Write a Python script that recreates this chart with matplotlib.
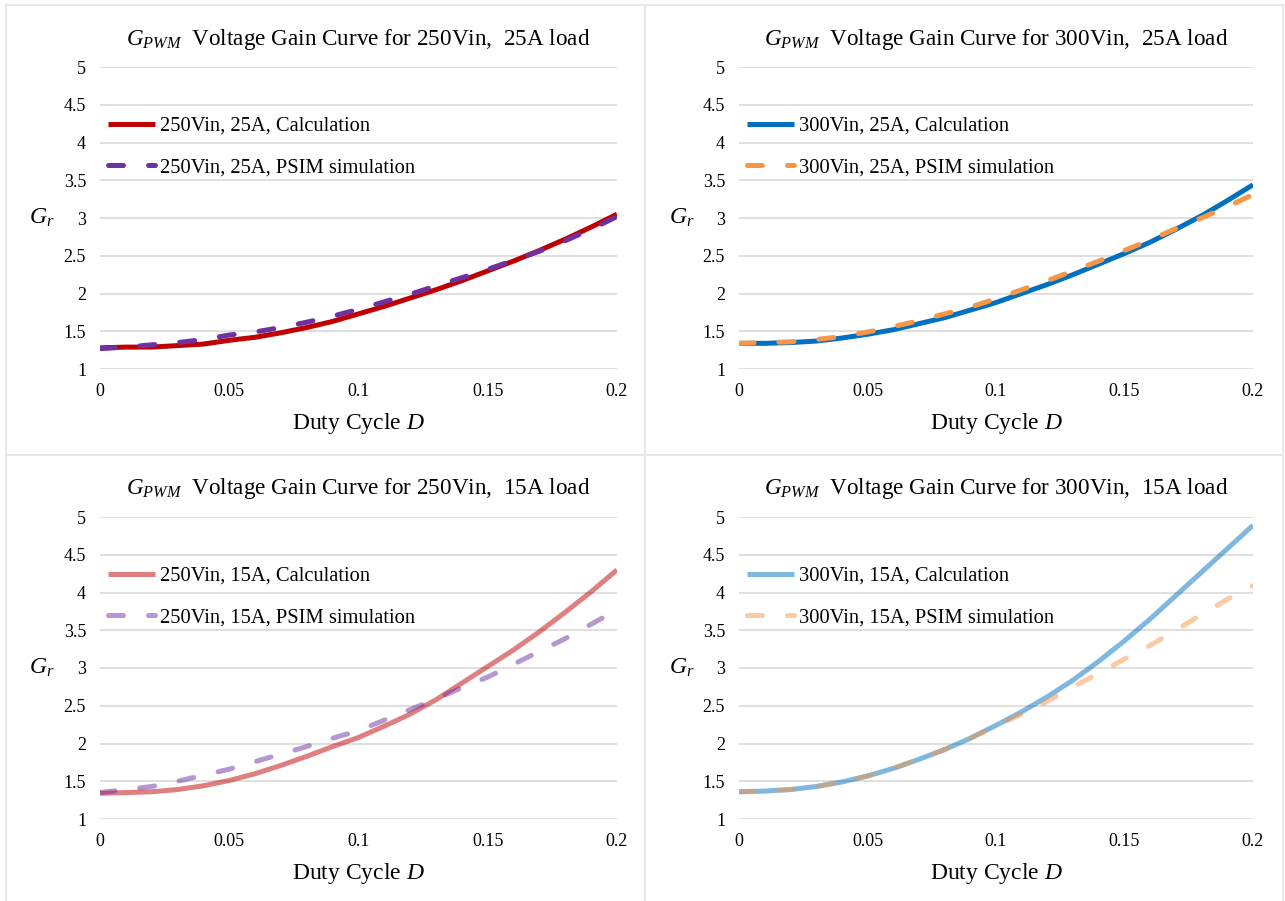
import matplotlib
matplotlib.use("Agg")
import matplotlib.pyplot as plt
from matplotlib.lines import Line2D

plt.rcParams['font.family'] = ['Liberation Serif', 'DejaVu Serif']
plt.rcParams['mathtext.fontset'] = 'custom'
plt.rcParams['mathtext.rm'] = 'Liberation Serif'
plt.rcParams['mathtext.it'] = 'Liberation Serif:italic'

# duty cycle D (x values shared by all curves)
duty = [0, 0.01, 0.02, 0.03, 0.04, 0.05, 0.06, 0.07, 0.08, 0.09, 0.10,
        0.11, 0.12, 0.13, 0.14, 0.15, 0.16, 0.17, 0.18, 0.19, 0.20]

# 250Vin, 25A
calc_250_25 = [1.28, 1.29, 1.29, 1.31, 1.33, 1.38, 1.42, 1.48, 1.55, 1.63, 1.73,
               1.83, 1.94, 2.05, 2.17, 2.30, 2.43, 2.57, 2.72, 2.88, 3.05]
sim_250_25 = [1.27, 1.29, 1.32, 1.35, 1.39, 1.45, 1.49, 1.55, 1.62, 1.70, 1.79,
              1.89, 1.99, 2.10, 2.21, 2.32, 2.44, 2.56, 2.70, 2.85, 3.02]

# 300Vin, 25A
calc_300_25 = [1.34, 1.34, 1.35, 1.37, 1.41, 1.46, 1.52, 1.60, 1.68, 1.78, 1.88,
               2.00, 2.12, 2.25, 2.39, 2.53, 2.68, 2.85, 3.03, 3.23, 3.44]
sim_300_25 = [1.34, 1.35, 1.36, 1.39, 1.43, 1.49, 1.56, 1.64, 1.73, 1.82, 1.93,
              2.05, 2.17, 2.30, 2.43, 2.57, 2.71, 2.86, 3.00, 3.15, 3.31]

# 250Vin, 15A
calc_250_15 = [1.34, 1.35, 1.36, 1.39, 1.44, 1.51, 1.60, 1.71, 1.83, 1.96, 2.08,
               2.23, 2.39, 2.58, 2.80, 3.02, 3.24, 3.48, 3.74, 4.01, 4.30]
sim_250_15 = [1.35, 1.39, 1.43, 1.50, 1.58, 1.66, 1.76, 1.86, 1.96, 2.07, 2.17,
              2.31, 2.45, 2.59, 2.74, 2.88, 3.05, 3.22, 3.39, 3.58, 3.77]

# 300Vin, 15A
calc_300_15 = [1.36, 1.37, 1.39, 1.43, 1.49, 1.57, 1.67, 1.79, 1.92, 2.07, 2.24,
               2.42, 2.62, 2.84, 3.09, 3.36, 3.65, 3.96, 4.27, 4.58, 4.89]
sim_300_15 = [1.36, 1.37, 1.39, 1.43, 1.49, 1.57, 1.67, 1.79, 1.92, 2.07, 2.23,
              2.39, 2.56, 2.75, 2.93, 3.12, 3.30, 3.50, 3.71, 3.91, 4.09]

x_ticks = [0, 0.05, 0.1, 0.15, 0.2]
x_tick_labels = ["0", "0.05", "0.1", "0.15", "0.2"]
y_ticks = [1, 1.5, 2, 2.5, 3, 3.5, 4, 4.5, 5]
y_tick_labels = ["1", "1.5", "2", "2.5", "3", "3.5", "4", "4.5", "5"]

W, H = 1285, 901
fig = plt.figure(figsize=(W / 100, H / 100), dpi=100)


def px_axes(left, top, right, bottom):
    return fig.add_axes([left / W, 1 - bottom / H, (right - left) / W, (bottom - top) / H])


def draw_panel(ax, vin, amps, calc, sim, c_calc, c_sim, alpha):
    ax.plot(duty, calc, color=c_calc, lw=3.6, alpha=alpha, solid_capstyle='butt',
            label=f"{vin}Vin, {amps}A, Calculation", zorder=3)
    ax.plot(duty, sim, color=c_sim, lw=3.6, alpha=alpha, dashes=(3.0, 5.0),
            dash_capstyle='round', label=f"{vin}Vin, {amps}A, PSIM simulation", zorder=4)
    ax.set_xlim(0, 0.2)
    ax.set_ylim(1, 5)
    ax.set_xticks(x_ticks, x_tick_labels)
    ax.set_yticks(y_ticks, y_tick_labels)
    ax.tick_params(length=0, labelsize=13, pad=10)
    ax.grid(axis='y', color='#D9D9D9', lw=1.2)
    ax.set_axisbelow(True)
    for s in ax.spines.values():
        s.set_visible(False)
    ax.annotate(rf"$G_{{PWM}}$  Voltage Gain Curve for {vin}Vin,  {amps}A load",
                xy=(0.5, 1), xycoords='axes fraction', xytext=(0, 28),
                textcoords='offset pixels', ha='center', va='center', fontsize=16.7)
    ax.text(-0.112, 3, "$G_r$", transform=ax.get_yaxis_transform(),
            ha='center', va='center', fontsize=17)
    ax.text(0.5, -0.18, "Duty Cycle $D$", transform=ax.transAxes,
            ha='center', va='center', fontsize=17)
    ax.legend(loc='center left', bbox_to_anchor=(0.0155, 0.735), frameon=False,
              fontsize=14.8, borderpad=0, borderaxespad=0, handlelength=2.3,
              handletextpad=0.25, labelspacing=1.07)


ax1 = px_axes(100, 67, 617, 369)
draw_panel(ax1, 250, 25, calc_250_25, sim_250_25, '#C00000', '#7030A0', 1.0)
ax2 = px_axes(739, 67, 1253, 369)
draw_panel(ax2, 300, 25, calc_300_25, sim_300_25, '#0070C0', '#F79646', 1.0)
ax3 = px_axes(100, 517, 617, 819)
draw_panel(ax3, 250, 15, calc_250_15, sim_250_15, '#C00000', '#7030A0', 0.5)
ax4 = px_axes(739, 517, 1253, 819)
draw_panel(ax4, 300, 15, calc_300_15, sim_300_15, '#0070C0', '#F79646', 0.5)

# light panel borders
border = '#E8E8E8'
for xp in (6, 645, 1283):
    fig.add_artist(Line2D([xp / W, xp / W], [0, 1 - 5 / H], color=border, lw=1.5))
for yp in (5, 455):
    fig.add_artist(Line2D([6 / W, 1283 / W], [1 - yp / H, 1 - yp / H], color=border, lw=1.5))

fig.savefig("out.png", dpi=100, facecolor='white')
